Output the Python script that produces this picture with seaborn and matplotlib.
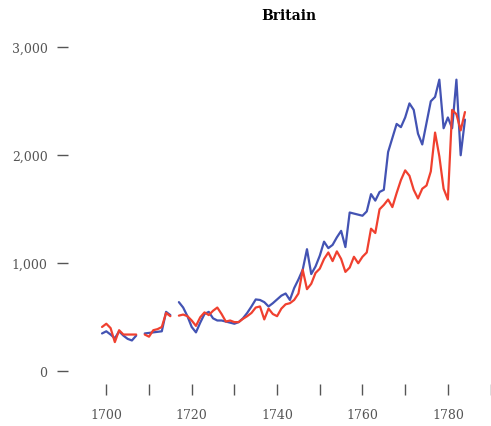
import numpy as np
import pandas as pd
import seaborn as sns
import matplotlib.pyplot as plt
from matplotlib.ticker import FixedLocator, FixedFormatter, NullFormatter

# --- 1. Data (NaN = year missing, line breaks there) ---

years = list(range(1699, 1785))

exports = [350, 370, 340, 305, 370, 330, 300, 285, 330, np.nan,
           350, 355, 360, 365, 370, 550, 520, np.nan,
           640, 590, 510, 410, 360, 450, 530, 550, 490, 470,
           470, 460, 450, 440, 455, 490, 540, 600, 665, 660,
           640, 600, 630, 665, 700, 720, 660, 770, 850, 940,
           1130, 900, 970, 1070, 1200, 1140, 1170, 1240, 1300, 1150,
           1470, 1460, 1450, 1440, 1480, 1640, 1580, 1660, 1680, 2030,
           2160, 2290, 2260, 2350, 2480, 2420, 2200, 2100, 2300, 2500,
           2540, 2700, 2250, 2350, 2250, 2700, 2000, 2330]

imports = [410, 440, 400, 270, 380, 340, 340, 340, 340, np.nan,
           340, 320, 380, 390, 410, 540, 510, np.nan,
           515, 525, 510, 470, 420, 500, 545, 520, 560, 590,
           530, 460, 470, 455, 455, 485, 510, 540, 590, 600,
           480, 580, 530, 510, 580, 620, 630, 660, 720, 940,
           760, 810, 910, 950, 1040, 1100, 1020, 1110, 1040, 920,
           960, 1060, 1000, 1060, 1100, 1320, 1280, 1500, 1540, 1590,
           1520, 1650, 1770, 1860, 1810, 1680, 1600, 1690, 1720, 1850,
           2210, 1990, 1690, 1590, 2420, 2380, 2230, 2400]

x_major = [1700, 1720, 1740, 1760, 1780]
x_labels = ['1700', '1720', '1740', '1760', '1780']
x_minor = [1710, 1730, 1750, 1770, 1790]
y_ticks = [0, 1000, 2000, 3000]
y_labels = ['0', '1,000', '2,000', '3,000']

# --- 2. Long table, one unit per unbroken run of years ---

df = pd.DataFrame({'year': years, 'exports': exports, 'imports': imports})
df['segment'] = df['exports'].isna().cumsum()
long_df = df.dropna().melt(id_vars=['year', 'segment'],
                           value_vars=['exports', 'imports'],
                           var_name='series', value_name='value')

# --- 3. Plot ---

sns.set_style('white')
plt.rcParams['font.family'] = ['DejaVu Serif']

fig = plt.figure(figsize=(4.91, 4.27), dpi=100)
ax = fig.add_axes([68.3 / 491, (427 - 385) / 427, (491 - 68.3) / 491, (385 - 30) / 427])

sns.lineplot(data=long_df, x='year', y='value', hue='series', units='segment',
             estimator=None, palette={'exports': '#4353b3', 'imports': '#f0402f'},
             linewidth=1.6, legend=False, ax=ax)

ax.set_xlim(1691.1, 1790.1)
ax.set_ylim(-118, 3169)
ax.xaxis.set_major_locator(FixedLocator(x_major))
ax.xaxis.set_major_formatter(FixedFormatter(x_labels))
ax.xaxis.set_minor_locator(FixedLocator(x_minor))
ax.xaxis.set_minor_formatter(NullFormatter())
ax.set_yticks(y_ticks, y_labels)
ax.set_xlabel('')
ax.set_ylabel('')

# no axis lines, only the tick marks
for spine in ax.spines.values():
    spine.set_visible(False)

ax.tick_params(axis='both', which='both', bottom=True, left=True, top=False,
               right=False, length=8, width=1, color='#555555',
               labelcolor='#555555', labelsize=9)
ax.tick_params(axis='x', which='both', pad=9.5)
ax.tick_params(axis='y', pad=7)

ax.set_title('Britain', fontsize=10, fontweight='bold', color='black',
             x=0.522, pad=7)

plt.savefig('out.png', dpi=100)
